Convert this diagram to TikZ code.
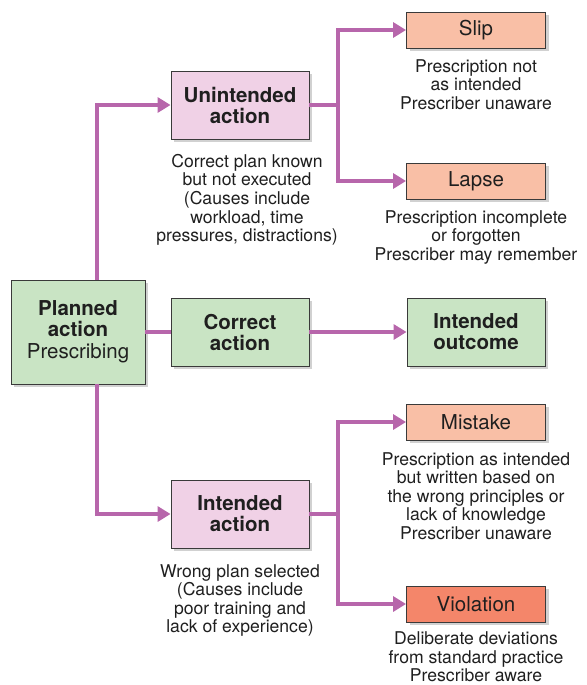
\documentclass[tikz,border=0pt]{standalone}
\usepackage{fontspec}
\setmainfont{TeX Gyre Heros}
\usetikzlibrary{arrows.meta,shadows}
\definecolor{gfill}{HTML}{C9E4C4}
\definecolor{pfill}{HTML}{F0D1E6}
\definecolor{sfill}{HTML}{F9BFA6}
\definecolor{vfill}{HTML}{F4866A}
\definecolor{conn}{HTML}{B766AB}
\definecolor{edge}{HTML}{3A3A3A}
\tikzset{
  box/.style={draw=edge, line width=0.9pt, align=center, inner sep=2pt,
    drop shadow={shadow xshift=3pt, shadow yshift=-3pt, opacity=0.3, fill=black!60},
    font=\fontsize{20.5}{21}\selectfont, text=black!88},
  bigbox/.style={box, minimum width=138pt, minimum height=68pt, font=\fontsize{20.5}{21}\selectfont\bfseries},
  smallbox/.style={box, minimum width=139pt, minimum height=36pt, fill=sfill},
  desc/.style={align=center, anchor=north, inner sep=0pt, font=\fontsize{17.6}{18.6}\selectfont, text=black!88},
  conline/.style={draw=conn, line width=4pt},
  conarrow/.style={conline, -{Triangle[length=13pt,width=15pt]}}
}
\begin{document}
\begin{tikzpicture}[x=1pt,y=-1pt]
\useasboundingbox (0,0) rectangle (586,685);
% boxes
\node[box, fill=gfill, minimum width=134pt, minimum height=104pt] (plan) at (78,332)
  {\fontsize{20.5}{21}\selectfont\bfseries Planned\\\fontsize{20.5}{21}\selectfont\bfseries action\\[1pt]\fontsize{20.5}{21}\selectfont Prescribing};
\node[bigbox, fill=gfill] (correct) at (240,332) {Correct\\action};
\node[bigbox, fill=gfill] (outcome) at (476,332) {Intended\\outcome};
\node[bigbox, fill=pfill] (unint) at (240,105) {Unintended\\action};
\node[bigbox, fill=pfill] (intact) at (240,514) {Intended\\action};
\node[smallbox] (slip) at (476,30) {Slip};
\node[smallbox] (lapse) at (476,181) {Lapse};
\node[smallbox] (mistake) at (476,422) {Mistake};
\node[smallbox, fill=vfill] (viol) at (476,604) {Violation};
% descriptions
\node[desc] (dslip) at (476,59) {Prescription not\\as intended\\Prescriber unaware};
\node[desc] (dlapse) at (476,210) {Prescription incomplete\\or forgotten\\Prescriber may remember};
\node[desc] (dunint) at (247,154) {Correct plan known\\but not executed\\(Causes include\\workload, time\\pressures, distractions)};
\node[desc] (dmist) at (476,452) {Prescription as intended\\but written based on\\the wrong principles or\\lack of knowledge\\Prescriber unaware};
\node[desc] (dint) at (240,564) {Wrong plan selected\\(Causes include\\poor training and\\lack of experience)};
\node[desc] (dviol) at (476,631.5) {Deliberate deviations\\from standard practice\\Prescriber aware};
% coordinates
\coordinate (pu) at (97,280);
\coordinate (pd) at (97,384);
\coordinate (ju) at (338,105);
\coordinate (jd) at (338,514);
% connectors
\draw[conarrow] (pu) |- (unint.west);
\draw[conarrow] (pd) |- (intact.west);
\draw[conline] (plan.east) -- (correct.west);
\draw[conarrow] (correct.east) -- (outcome.west);
\draw[conline] (unint.east) -- (ju);
\draw[conarrow] (ju) |- (slip.west);
\draw[conarrow] (ju) |- (lapse.west);
\draw[conline] (intact.east) -- (jd);
\draw[conarrow] (jd) |- (mistake.west);
\draw[conarrow] (jd) |- (viol.west);
\end{tikzpicture}
\end{document}
